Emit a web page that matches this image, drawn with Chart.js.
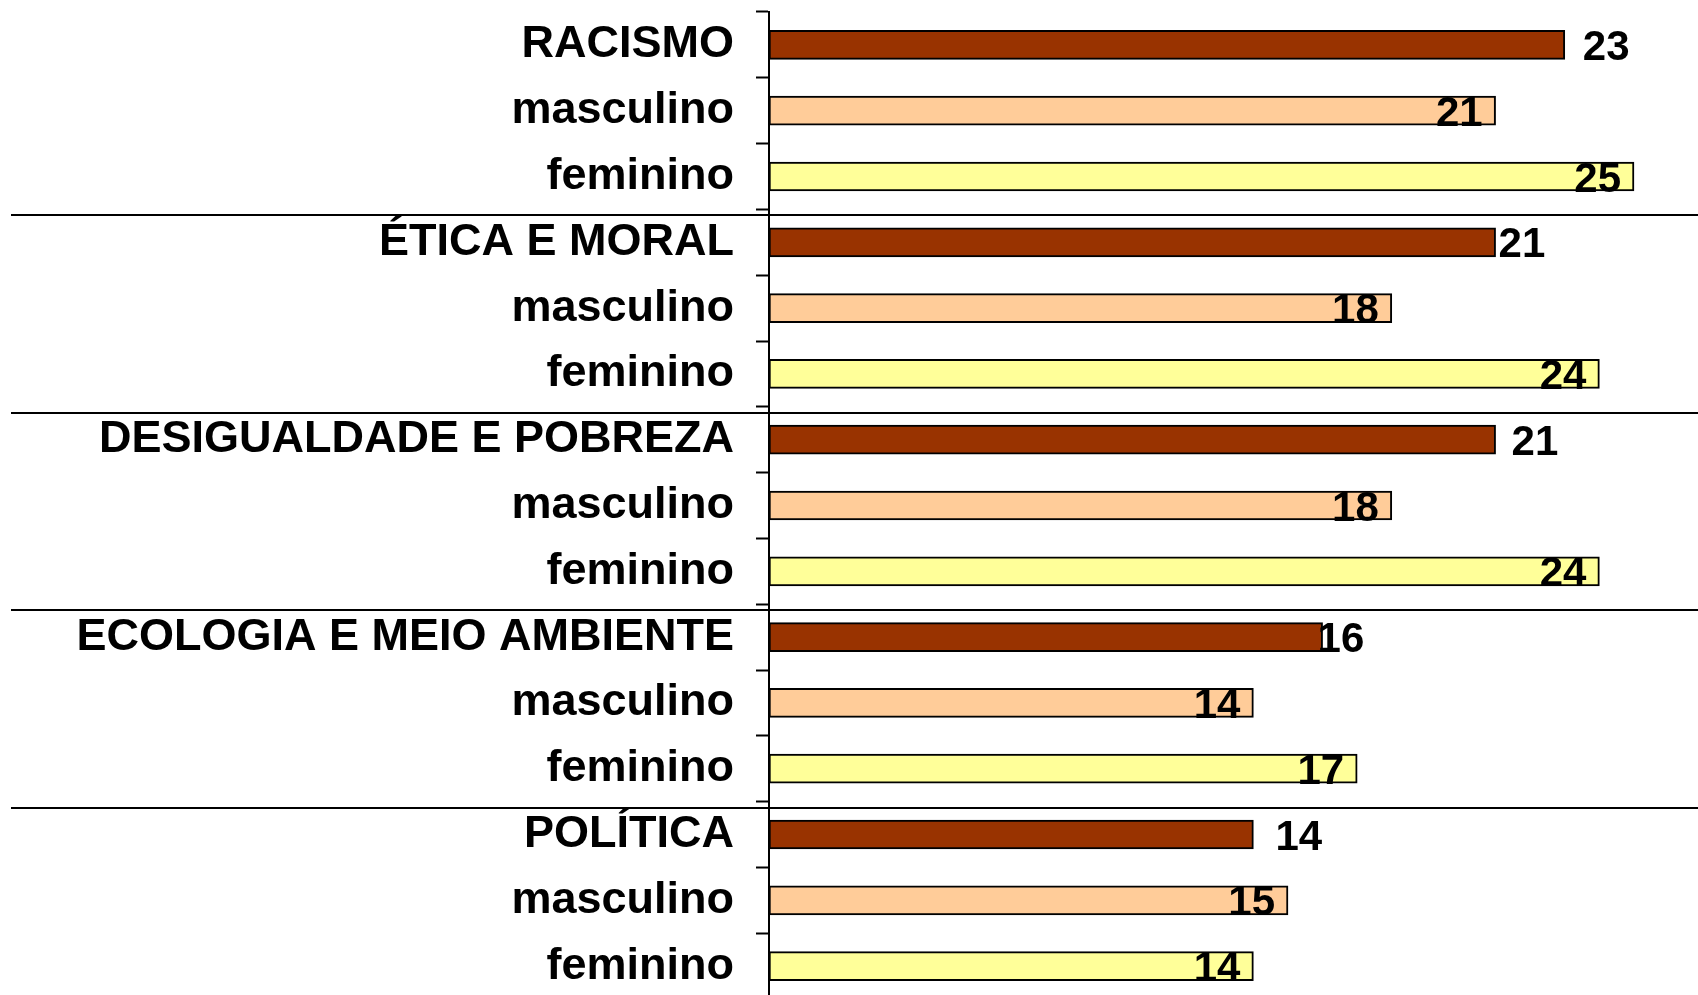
<!DOCTYPE html>
<html>
<head>
<meta charset="utf-8">
<script src="https://cdn.jsdelivr.net/npm/chart.js@4/dist/chart.umd.min.js"></script>
<style>
  html, body { margin: 0; padding: 0; background: #fff; overflow: hidden; }
  #wrap { position: relative; width: 1698px; height: 999px; }
</style>
</head>
<body>
<div id="wrap"><canvas id="c"></canvas></div>
<script>
// ---- data ----
const topics = ['RACISMO', 'ÉTICA E MORAL', 'DESIGUALDADE E POBREZA', 'ECOLOGIA E MEIO AMBIENTE', 'POLÍTICA'];
const subgroupLabels = ['masculino', 'feminino'];
const totalValues = [23, 21, 21, 16, 14];
const masculinoValues = [21, 18, 18, 14, 15];
const femininoValues = [25, 24, 24, 17, 14];

// ---- build the category / value lists ----
const categoryLabels = [];
const barValues = [];
const rowKinds = [];
topics.forEach((t, i) => {
  categoryLabels.push(t, subgroupLabels[0], subgroupLabels[1]);
  barValues.push(totalValues[i], masculinoValues[i], femininoValues[i]);
  rowKinds.push('total', 'masc', 'fem');
});

const kindColors = { total: '#993300', masc: '#FFCC99', fem: '#FFFF99' };
const FONT = '"Liberation Sans", Arial, sans-serif';

const valueLabelPlugin = {
  id: 'valueLabels',
  afterDatasetsDraw(chart, args, opts) {
    const ctx = chart.ctx;
    const meta = chart.getDatasetMeta(0);
    ctx.save();
    ctx.font = 'bold 42px ' + FONT;
    ctx.fillStyle = '#000';
    ctx.textBaseline = 'alphabetic';
    meta.data.forEach((bar, i) => {
      const v = chart.data.datasets[0].data[i];
      const yText = bar.y + 15;
      if (rowKinds[i] === 'total') {
        ctx.textAlign = 'left';
        ctx.fillText(String(v), bar.x + opts.outsideGap[Math.floor(i / 3)], yText);
      } else {
        ctx.textAlign = 'right';
        ctx.fillText(String(v), bar.x - opts.insideGap, yText);
      }
    });
    ctx.restore();
  }
};

const separatorPlugin = {
  id: 'groupSeparators',
  afterDraw(chart, args, opts) {
    const ctx = chart.ctx;
    const y = chart.scales.y;
    ctx.save();
    ctx.strokeStyle = '#000';
    ctx.lineWidth = 2;
    for (let g = 1; g < topics.length; g++) {
      const a = y.getPixelForValue(g * 3 - 1);
      const b = y.getPixelForValue(g * 3);
      const yy = Math.round((a + b) / 2 + opts.shift);
      ctx.beginPath();
      ctx.moveTo(opts.left, yy);
      ctx.lineTo(chart.width, yy);
      ctx.stroke();
    }
    ctx.restore();
  }
};

new Chart(document.getElementById('c'), {
  type: 'bar',
  data: {
    labels: categoryLabels,
    datasets: [{
      data: barValues,
      backgroundColor: rowKinds.map(k => kindColors[k]),
      borderColor: '#000',
      borderWidth: 2,
      borderSkipped: false,
      barThickness: 29
    }]
  },
  options: {
    indexAxis: 'y',
    responsive: true,
    maintainAspectRatio: false,
    animation: false,
    layout: { padding: { top: 12, left: 0, right: 0, bottom: 0 } },
    plugins: {
      legend: { display: false },
      tooltip: { enabled: false },
      valueLabels: { outsideGap: [18, 3, 16, -5, 22], insideGap: 13 },
      groupSeparators: { shift: 6, left: 11 }
    },
    scales: {
      x: { display: false, min: 0, max: 26.85 },
      y: {
        afterFit(scale) {
          scale.width = 769;
          scale.paddingTop = 0;
          scale.paddingBottom = 0;
        },
        border: { display: true, color: '#000', width: 2 },
        grid: {
          offset: true,
          drawOnChartArea: false,
          drawTicks: true,
          tickLength: 13,
          tickWidth: 2,
          tickColor: '#000',
          color: '#000'
        },
        ticks: {
          autoSkip: false,
          padding: 22,
          color: '#000',
          font: { family: FONT, size: 45, weight: 'bold' }
        }
      }
    }
  },
  plugins: [valueLabelPlugin, separatorPlugin]
});
</script>
</body>
</html>
